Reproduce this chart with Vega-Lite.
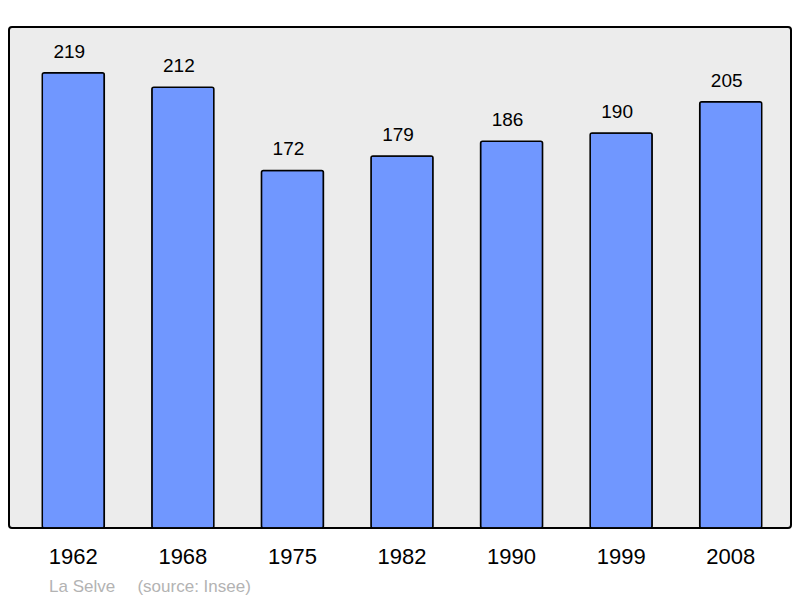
{
  "$schema": "https://vega.github.io/schema/vega-lite/v6.json",
  "width": 782,
  "height": 501,
  "autosize": {"type": "none"},
  "padding": {"left": 9, "top": 27, "right": 9, "bottom": 70},
  "background": "#ffffff",
  "config": {
    "view": {"fill": "#ececec", "stroke": "#000000", "strokeWidth": 2, "cornerRadius": 3},
    "font": "Liberation Sans"
  },
  "title": {
    "text": "La Selve\u00a0\u00a0\u00a0\u00a0\u2009(source: Insee)",
    "orient": "bottom",
    "anchor": "start",
    "offset": 12,
    "dx": 40,
    "fontSize": 17,
    "fontWeight": "normal",
    "color": "#b3b3b3",
    "font": "Liberation Sans"
  },
  "data": {
    "values": [
      {"year": "1962", "pop": 219},
      {"year": "1968", "pop": 212},
      {"year": "1975", "pop": 172},
      {"year": "1982", "pop": 179},
      {"year": "1990", "pop": 186},
      {"year": "1999", "pop": 190},
      {"year": "2008", "pop": 205}
    ]
  },
  "encoding": {
    "x": {
      "field": "year",
      "type": "nominal",
      "sort": null,
      "scale": {"paddingInner": 0.434, "paddingOuter": 0.2855, "align": 0.532},
      "axis": {
        "title": null,
        "domain": false,
        "ticks": false,
        "labelAngle": 0,
        "labelFontSize": 22,
        "labelColor": "#000000",
        "labelPadding": 18,
        "labelFont": "Liberation Sans"
      }
    },
    "y": {
      "field": "pop",
      "type": "quantitative",
      "scale": {"domain": [0, 241], "nice": false},
      "axis": null
    }
  },
  "layer": [
    {
      "mark": {"type": "bar", "fill": "#7097ff", "stroke": "#000000", "strokeWidth": 1.5, "cornerRadius": 2}
    },
    {
      "mark": {"type": "text", "baseline": "alphabetic", "dy": -15, "dx": -4, "fontSize": 19, "color": "#000000", "font": "Liberation Sans"},
      "encoding": {"text": {"field": "pop", "type": "quantitative"}}
    }
  ]
}
